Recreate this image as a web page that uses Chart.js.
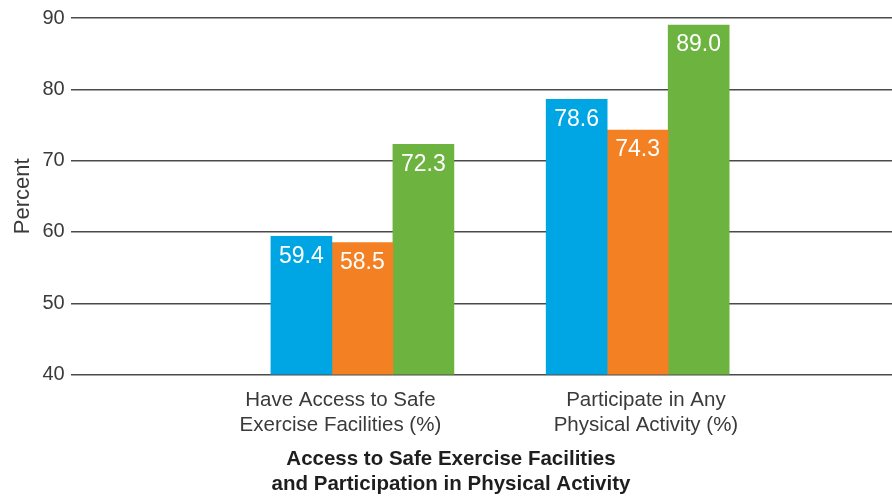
<!DOCTYPE html>
<html>
<head>
<meta charset="utf-8">
<script src="https://cdn.jsdelivr.net/npm/chart.js@4.4.0/dist/chart.umd.min.js"></script>
<style>
  html, body { margin: 0; padding: 0; background: #fff; }
  #wrap { width: 892px; height: 496px; }
</style>
</head>
<body>
<div id="wrap"><canvas id="facilitiesChart"></canvas></div>
<script>
const categories = [
    ['Have Access to Safe', 'Exercise Facilities (%)'],
    ['Participate in Any', 'Physical Activity (%)']
];
const blueValues = [59.4, 78.6];
const orangeValues = [58.5, 74.3];
const greenValues = [72.3, 89.0];
const yTicks = [40, 50, 60, 70, 80, 90];

const FONT = '"Liberation Sans", Arial, Helvetica, sans-serif';
const TEXT = '#3a3a3a';

// bars sit on a linear x axis so the groups can be placed freely
const toPoints = values => values.map((v, i) => ({ x: i + 1, y: v }));

// white value printed just inside the top of each bar
const valueLabels = {
    id: 'valueLabels',
    afterDatasetsDraw(chart) {
        const ctx = chart.ctx;
        ctx.save();
        ctx.font = '23px ' + FONT;
        ctx.fillStyle = '#ffffff';
        ctx.textAlign = 'center';
        ctx.textBaseline = 'middle';
        chart.data.datasets.forEach((ds, i) => {
            chart.getDatasetMeta(i).data.forEach((bar, j) => {
                ctx.fillText(ds.data[j].y.toFixed(1), bar.x, bar.y + 20);
            });
        });
        ctx.restore();
    }
};

document.addEventListener('DOMContentLoaded', () => {
    const ctx = document.getElementById('facilitiesChart');

    new Chart(ctx, {
        type: 'bar',
        data: {
            datasets: [
                { label: 'Blue', data: toPoints(blueValues), backgroundColor: '#00A5E3' },
                { label: 'Orange', data: toPoints(orangeValues), backgroundColor: '#F38124' },
                { label: 'Green', data: toPoints(greenValues), backgroundColor: '#6DB33F' }
            ]
        },
        options: {
            responsive: true,
            maintainAspectRatio: false,
            animation: false,
            barThickness: 61,
            layout: { padding: { top: 0, right: 0, left: 10, bottom: 0 } },
            scales: {
                x: {
                    type: 'linear',
                    offset: false,
                    min: -0.06,
                    max: 2.924,
                    grid: { display: false },
                    border: { display: false },
                    afterBuildTicks: scale => {
                        scale.ticks = [{ value: 0.92 }, { value: 2.03 }];
                    },
                    ticks: {
                        autoSkip: false,
                        maxRotation: 0,
                        padding: 5,
                        color: TEXT,
                        font: { family: FONT, size: 20.5, lineHeight: 1.22 },
                        callback: (value, index) => categories[index]
                    }
                },
                y: {
                    min: 40,
                    max: 90,
                    afterBuildTicks: scale => {
                        scale.ticks = yTicks.map(v => ({ value: v }));
                    },
                    grid: { color: '#4a4a4a', lineWidth: 1.5, drawTicks: false },
                    border: { display: false },
                    ticks: {
                        padding: 6,
                        color: TEXT,
                        font: { family: FONT, size: 20 }
                    },
                    title: {
                        display: true,
                        text: 'Percent',
                        color: TEXT,
                        font: { family: FONT, size: 22 },
                        padding: { top: 0, bottom: 0 }
                    }
                }
            },
            plugins: {
                legend: { display: false },
                tooltip: { enabled: false },
                title: {
                    display: true,
                    position: 'bottom',
                    text: ['Access to Safe Exercise Facilities', 'and Participation in Physical Activity'],
                    color: '#1e1e1e',
                    font: { family: FONT, size: 20.5, weight: 'bold', lineHeight: 1.18 },
                    padding: { top: 5, bottom: 0 }
                }
            }
        },
        plugins: [valueLabels]
    });
});
</script>
</body>
</html>
